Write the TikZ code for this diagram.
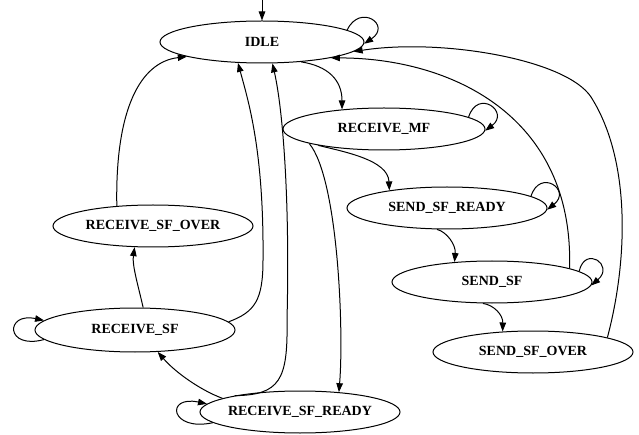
\documentclass[tikz,border=0pt]{standalone}
\usepackage{fontspec}
\setmainfont{Liberation Serif}
\usetikzlibrary{shapes.geometric,arrows.meta}
\newcommand{\lbl}[1]{\makebox[0pt]{#1}}
\begin{document}
\begin{tikzpicture}[x=1pt,y=-1pt,
  st/.style={ellipse, draw, line width=1pt, minimum width=200pt, minimum height=42pt, inner sep=0pt,
    font=\fontsize{14}{16}\selectfont\bfseries},
  edge/.style={line width=1pt, -{Triangle[length=9pt,width=6.5pt]}}]
\useasboundingbox (0,0) rectangle (639,435);
\fill[white] (0,0) rectangle (639,435);

\node[st, minimum width=204pt] (idle) at (262,42) {\lbl{IDLE}};
\node[st, minimum width=202pt] (rmf) at (384,129) {\lbl{RECEIVE\_MF}};
\node[st] (ssr) at (447,208) {\lbl{SEND\_SF\_READY}};
\node[st] (ssf) at (492,282) {\lbl{SEND\_SF}};
\node[st] (sso) at (533,352) {\lbl{SEND\_SF\_OVER}};
\node[st] (rso) at (153,226) {\lbl{RECEIVE\_SF\_OVER}};
\node[st, minimum height=44pt] (rsf) at (135,330) {\lbl{RECEIVE\_SF}};
\node[st] (rsr) at (300,412) {\lbl{RECEIVE\_SF\_READY}};

\coordinate (init) at (262,0);
\draw[edge] (init) -- (idle.north);

% self loops
\draw[edge] (idle.8) .. controls (360,3) and (392,25) .. (idle.-1);
\draw[edge] (rmf.8) .. controls (478,88) and (510,112) .. (rmf.-1);
\draw[edge] (ssr.8) .. controls (540,168) and (572,190) .. (ssr.-1);
\draw[edge] (ssf.7) .. controls (585,245) and (615,265) .. (ssf.-2);
\draw[edge] (rsf.186) .. controls (5,350) and (5,312) .. (rsf.174);
\draw[edge] (rsr.187) .. controls (170,432) and (165,395) .. (rsr.175);

% forward chain
\draw[edge] (idle.-27) .. controls (328,66) and (342,80) .. (rmf.155);
\draw[edge] (rmf.-166) .. controls (345,152) and (388,160) .. (ssr.163);
\draw[edge] (ssr.-115) .. controls (447,232) and (456,245) .. (ssf.152);
\draw[edge] (ssf.-113) .. controls (494,305) and (503,315) .. (sso.146);
\draw[edge] (rmf.-169) .. controls (338,178) and (344,330) .. (rsr.27);
\draw[edge] (rsr.170) .. controls (200,390) and (175,372) .. (rsf.-44);
\draw[edge] (rsf.70) .. controls (138,285) and (132,265) .. (rso.-131);

% back to IDLE
\draw[edge] (ssf.10) .. controls (574,115) and (450,58) .. (idle.-13);
\draw[edge] (sso.11) .. controls (628,260) and (631,160) .. (591,97)
            .. controls (566,59) and (440,38) .. (idle.-6);
\draw[edge] (rso.151) .. controls (115,110) and (140,62) .. (idle.-169);
\draw[edge] (rsf.5) .. controls (255,312) and (263,300) .. (263,260)
            .. controls (264,150) and (248,100) .. (idle.-139);
\draw[edge] (rsr.166) .. controls (280,395) and (288,380) .. (287,320)
            .. controls (290,200) and (283,110) .. (idle.-64);
\end{tikzpicture}
\end{document}
